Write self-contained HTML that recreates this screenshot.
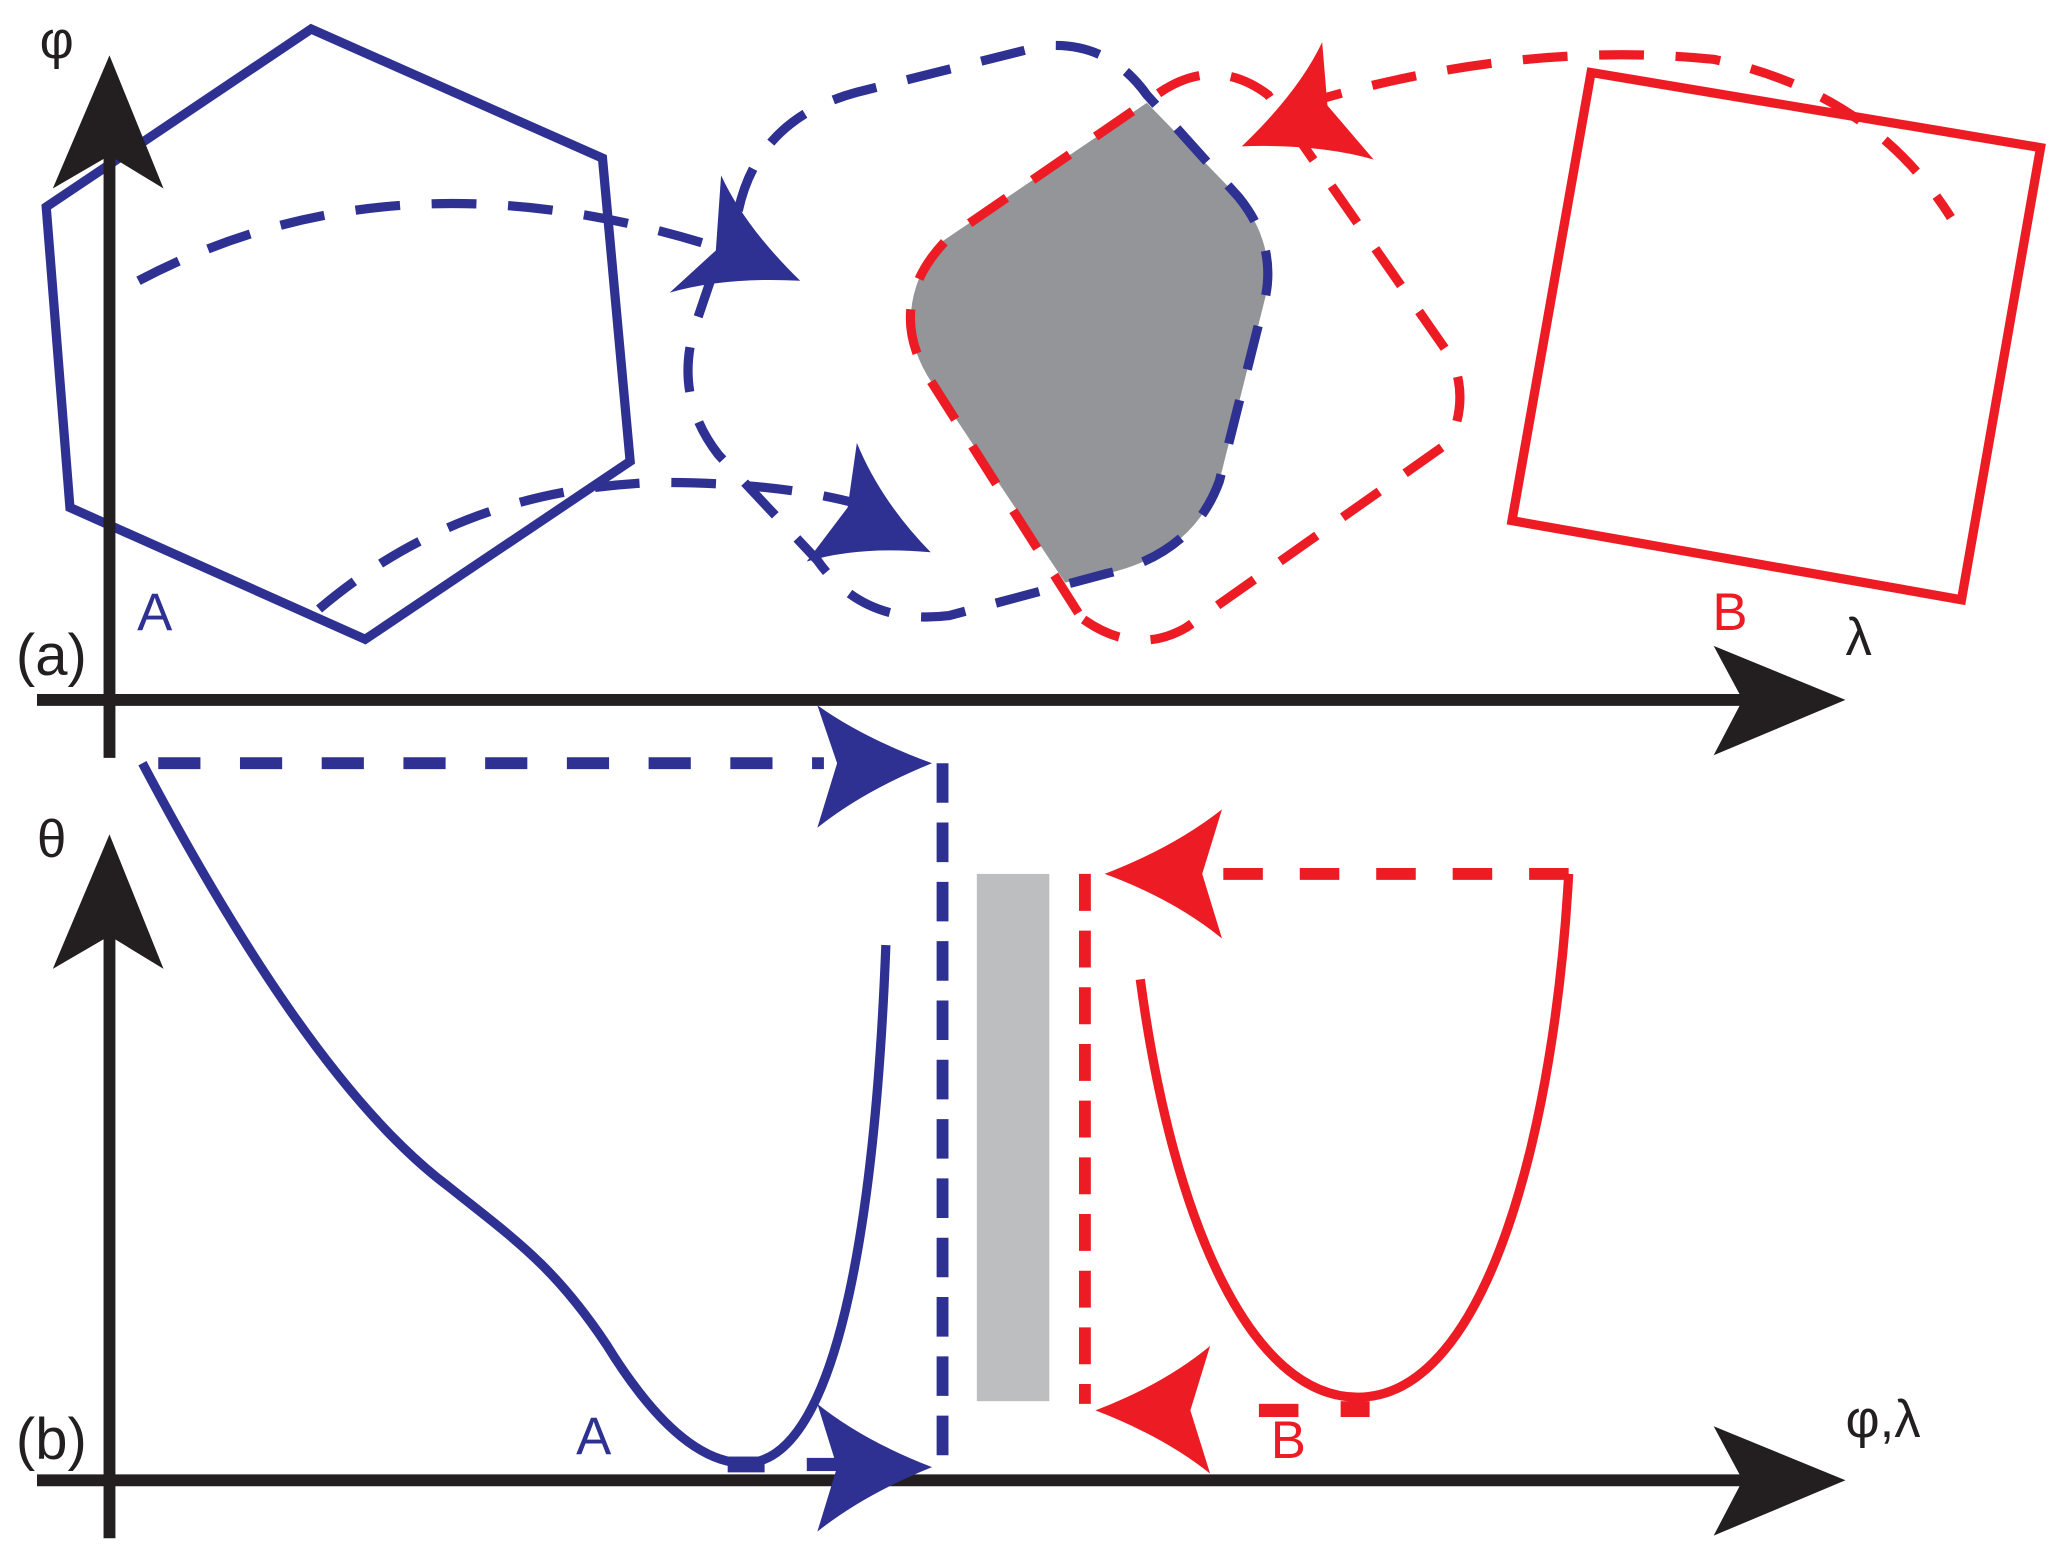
<!DOCTYPE html>
<html><head><meta charset="utf-8"><style>
html,body{margin:0;padding:0;background:#fff;}
svg{display:block;}
text{font-family:"Liberation Sans","DejaVu Sans",sans-serif;}
</style></head><body>
<svg width="2067" height="1562" viewBox="0 0 1568 1185" xmlns="http://www.w3.org/2000/svg">
<rect width="1568" height="1185" fill="#fff"/>
<path d="M870,78 L940,150 Q968,185 960,225 L925,365 Q905,420 840,435 L808,442 L708,292 Q672,240 712,185 Z" fill="#939598"/>
<polygon points="35,157 236,22 457,120 478,350 277,485 53,385" fill="none" stroke="#2e3192" stroke-width="7"/>
<polygon points="1207,55 1548,112 1488,455 1147,395" fill="none" stroke="#ed1c24" stroke-width="7"/>
<path d="M560,160 Q575,90 650,70 L790,35 Q840,30 870,72 L940,150 Q968,185 960,225 L925,365 Q905,420 840,435 L720,467 Q655,475 620,425 L545,345 Q510,300 528,245 L545,195" fill="none" stroke="#2e3192" stroke-width="7" stroke-dasharray="34 24"/>
<path d="M818,465 L708,292 Q668,232 720,180 L880,70 Q922,42 962,72 L1100,270 Q1115,300 1100,335 L900,476 Q862,498 822,470" fill="none" stroke="#ed1c24" stroke-width="7" stroke-dasharray="34 24"/>
<path d="M105,213 Q300,110 545,188" fill="none" stroke="#2e3192" stroke-width="7" stroke-dasharray="34 24"/>
<path d="M607,213 Q565,172 547,133 L543,190 L508,222 Q550,210 607,213 Z" fill="#2e3192"/>
<path d="M242,462 Q350,370 500,366 Q590,366 650,382" fill="none" stroke="#2e3192" stroke-width="7" stroke-dasharray="34 24"/>
<path d="M706,419 Q668,380 650,336 L643,385 L612,426 Q652,414 706,419 Z" fill="#2e3192"/>
<path d="M985,80 Q1150,30 1300,45 Q1420,70 1480,165" fill="none" stroke="#ed1c24" stroke-width="7" stroke-dasharray="34 24"/>
<path d="M942,111 Q985,70 1003,32 L1007,80 L1042,121 Q1000,109 942,111 Z" fill="#ed1c24"/>
<line x1="28" y1="531" x2="1330" y2="531" stroke="#231f20" stroke-width="9"/>
<polygon points="1300,490 1400,531 1300,573 1322,531" fill="#231f20"/>
<line x1="83" y1="575" x2="83" y2="110" stroke="#231f20" stroke-width="9"/>
<polygon points="40,143 83,42 124,143 83,118" fill="#231f20"/>
<text x="30" y="44" font-size="40" fill="#231f20">φ</text>
<text x="12" y="512" font-size="44" fill="#231f20">(a)</text>
<text x="104" y="478" font-size="40" fill="#2e3192">A</text>
<text x="1299" y="478" font-size="40" fill="#ed1c24">B</text>
<text x="1400" y="497" font-size="40" fill="#231f20">λ</text>
<rect x="741" y="663" width="55" height="400" fill="#bcbec0"/>
<line x1="120" y1="579" x2="625" y2="579" stroke="#2e3192" stroke-width="9" stroke-dasharray="32 30"/>
<path d="M707,579 Q655,560 620,535 L635,579 L620,628 Q655,600 707,579 Z" fill="#2e3192"/>
<line x1="715" y1="579" x2="715" y2="1110" stroke="#2e3192" stroke-width="9" stroke-dasharray="30 15"/>
<line x1="823" y1="663" x2="823" y2="1065" stroke="#ed1c24" stroke-width="9" stroke-dasharray="28 15"/>
<line x1="1190" y1="663" x2="900" y2="663" stroke="#ed1c24" stroke-width="9" stroke-dasharray="30 28"/>
<path d="M838,663 Q890,643 927,614 L912,663 L927,712 Q890,682 838,663 Z" fill="#ed1c24"/>
<path d="M108,579 C180,715 260,840 340,900 C390,940 420,960 460,1020 C500,1085 535,1110 565,1110 C640,1110 665,900 672,717" fill="none" stroke="#2e3192" stroke-width="7"/>
<path d="M865,743 C890,930 950,1060 1030,1060 C1130,1060 1180,850 1190,663" fill="none" stroke="#ed1c24" stroke-width="7"/>
<rect x="552" y="1105" width="28" height="12" fill="#2e3192"/>
<rect x="1017" y="1063" width="22" height="12" fill="#ed1c24"/>
<line x1="28" y1="1123" x2="1330" y2="1123" stroke="#231f20" stroke-width="9"/>
<polygon points="1300,1082 1400,1123 1300,1165 1322,1123" fill="#231f20"/>
<line x1="83" y1="1167" x2="83" y2="710" stroke="#231f20" stroke-width="9"/>
<polygon points="40,735 83,633 124,735 83,710" fill="#231f20"/>
<rect x="612" y="1106" width="30" height="10" fill="#2e3192"/>
<path d="M707,1113 Q655,1093 620,1065 L635,1113 L620,1162 Q655,1134 707,1113 Z" fill="#2e3192"/>
<rect x="955" y="1065" width="30" height="10" fill="#ed1c24"/>
<path d="M831,1070 Q883,1050 918,1021 L903,1070 L918,1118 Q883,1090 831,1070 Z" fill="#ed1c24"/>
<text x="28" y="650" font-size="40" fill="#231f20">θ</text>
<text x="12" y="1107" font-size="44" fill="#231f20">(b)</text>
<text x="437" y="1103" font-size="40" fill="#2e3192">A</text>
<text x="964" y="1106" font-size="40" fill="#ed1c24">B</text>
<text x="1400" y="1090" font-size="40" fill="#231f20">φ,λ</text>
</svg>
</body></html>
